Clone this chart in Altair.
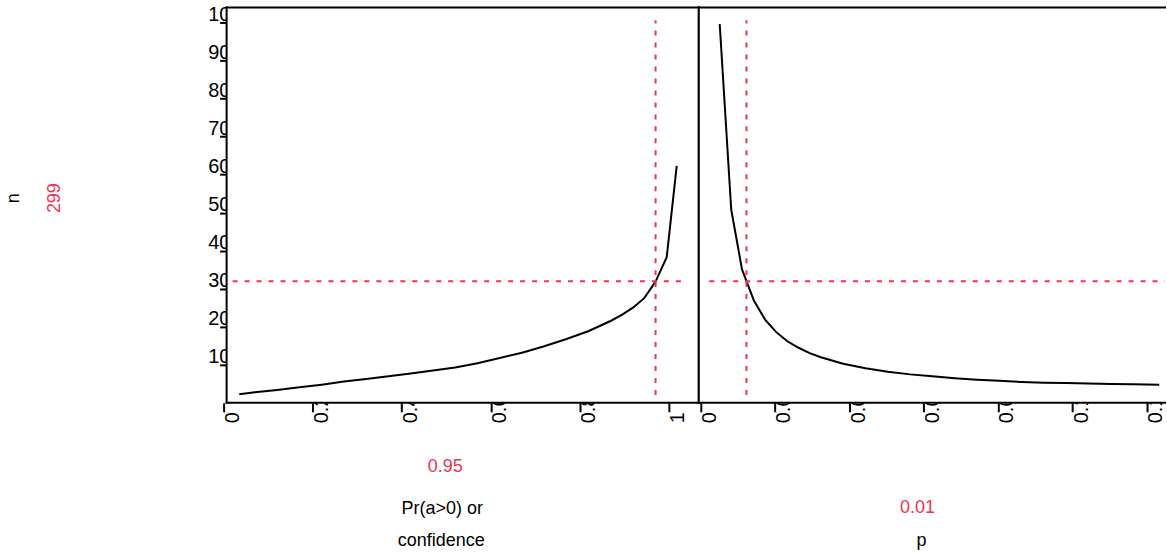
import altair as alt
import pandas as pd

# ---- data ----
conf_vals = [0.015, 0.05, 0.10, 0.15, 0.20, 0.25, 0.30, 0.35, 0.40, 0.45, 0.50, 0.55,
             0.60, 0.65, 0.70, 0.75, 0.80, 0.85, 0.875, 0.90, 0.925, 0.95, 0.975, 0.9975]
n_by_conf = [2, 7, 13, 20, 27, 35, 42, 49, 56, 64, 72, 83,
             97, 111, 128, 147, 168, 195, 211, 230, 255, 298, 362, 602]

p_vals = [0.0028, 0.0059, 0.0088, 0.012, 0.015, 0.018, 0.021, 0.024, 0.027, 0.030, 0.036,
          0.042, 0.048, 0.054, 0.060, 0.066, 0.072, 0.078, 0.084, 0.090, 0.096, 0.102,
          0.108, 0.114, 0.121]
n_by_p = [975, 487, 330, 248, 198, 165, 141, 124, 110, 99, 82,
          70, 61, 54, 49, 44, 40, 37, 34, 32, 31, 30,
          29, 28, 26.5]

chosen_conf = [0.95]
chosen_p = [0.01]
chosen_n = [299]
ref_conf_span = [0.0, 1.0135]
ref_p_span = [0.0, 0.1225]
ref_n_span = [0, 985]

y_ticks = [100, 200, 300, 400, 500, 600, 700, 800, 900, 1000]
xl_ticks = [0, 0.2, 0.4, 0.6, 0.8, 1]
xr_ticks = [0, 0.02, 0.04, 0.06, 0.08, 0.1, 0.12]

# ---- layout / style ----
W_L, W_R, H = 473, 467, 396
RED = "#EE3350"
FONT = "Liberation Sans"

left_df = pd.DataFrame({"conf": conf_vals, "n": n_by_conf})
right_df = pd.DataFrame({"p": p_vals, "n": n_by_p})
one = pd.DataFrame({"k": [0]})

ref_l_v = pd.DataFrame({"conf": chosen_conf, "n_lo": [ref_n_span[0]], "n_hi": [ref_n_span[1]]})
ref_l_h = pd.DataFrame({"n": chosen_n, "c_lo": [ref_conf_span[0]], "c_hi": [ref_conf_span[1]],
                        "lab": [str(v) for v in chosen_n]})
ref_r_v = pd.DataFrame({"p": chosen_p, "n_lo": [ref_n_span[0]], "n_hi": [ref_n_span[1]]})
ref_r_h = pd.DataFrame({"n": chosen_n, "p_lo": [ref_p_span[0]], "p_hi": [ref_p_span[1]]})
lab_conf = pd.DataFrame({"lab": [str(v) for v in chosen_conf]})
lab_p = pd.DataFrame({"lab": [str(v) for v in chosen_p]})

y_scale = alt.Scale(domain=[-20.7, 1018.6], nice=False, zero=False)
xl_scale = alt.Scale(domain=[-0.01345, 1.0471], nice=False, zero=False)
xr_scale = alt.Scale(domain=[-0.00282, 0.12255], nice=False, zero=False)

y_axis = alt.Axis(values=y_ticks, format="d", labelAlign="left", labelBaseline="middle",
                  labelPadding=12, tickSize=7, tickWidth=2, tickColor="black",
                  tickOffset=8, labelOffset=-8, domain=False, grid=False, title=None,
                  labelFont=FONT, labelFontSize=20, labelColor="black",
                  labelOverlap=False, labelFlush=False)


def x_axis(vals):
    return alt.Axis(values=vals, format="~g", labelAngle=270, labelAlign="left",
                    labelBaseline="middle", labelPadding=11, tickSize=9, tickWidth=2,
                    tickColor="black", tickOffset=-9, labelOffset=9, domain=False,
                    grid=False, title=None, labelFlush=False, labelOverlap=False,
                    labelFont=FONT, labelFontSize=20, labelColor="black")


def border(w):
    b = alt.Chart(one).mark_rule(color="black", strokeWidth=2, strokeCap="square")
    return [
        b.encode(x=alt.value(0), x2=alt.value(w), y=alt.value(0)),
        b.encode(x=alt.value(0), x2=alt.value(w), y=alt.value(H)),
        b.encode(x=alt.value(0), y=alt.value(0), y2=alt.value(H)),
    ]


def cover(w):
    return alt.Chart(one).mark_rect(color="white").encode(
        x=alt.value(0), x2=alt.value(w), y=alt.value(0), y2=alt.value(H))


def txt(df, text, x, y, color="black", angle=0):
    enc = dict(x=alt.value(x), y=alt.value(y))
    if text is None:
        m = alt.Chart(df).mark_text(font=FONT, fontSize=18, color=color, angle=angle,
                                    align="center", baseline="middle")
        enc["text"] = alt.Text("lab:N")
    else:
        m = alt.Chart(one).mark_text(font=FONT, fontSize=18, color=color, angle=angle,
                                     align="center", baseline="middle", text=text)
    return m.encode(**enc)


# ---- left panel ----
left_curve = alt.Chart(left_df).mark_line(color="black", strokeWidth=2).encode(
    x=alt.X("conf:Q", scale=xl_scale, axis=x_axis(xl_ticks)),
    y=alt.Y("n:Q", scale=y_scale, axis=y_axis),
)
l_vline = alt.Chart(ref_l_v).mark_rule(color=RED, strokeWidth=2, strokeDash=[5, 7]).encode(
    x=alt.X("conf:Q", scale=xl_scale), y=alt.Y("n_lo:Q", scale=y_scale), y2="n_hi:Q")
l_hline = alt.Chart(ref_l_h).mark_rule(color=RED, strokeWidth=2, strokeDash=[5, 7]).encode(
    y=alt.Y("n:Q", scale=y_scale), x=alt.X("c_lo:Q", scale=xl_scale), x2="c_hi:Q")
anchor = alt.Chart(one).mark_rect(opacity=0).encode(
    x=alt.value(-227), x2=alt.value(-226), y=alt.value(-7), y2=alt.value(549))

left = alt.layer(
    left_curve.mark_line(opacity=0),
    cover(W_L),
    left_curve,
    l_vline, l_hline,
    *border(W_L),
    alt.Chart(one).mark_rule(color="black", strokeWidth=2).encode(
        x=alt.value(W_L), y=alt.value(0), y2=alt.value(H)),
    txt(one, "n", -213, 191, angle=270),
    txt(ref_l_h, None, -171.5, 191, color=RED, angle=270),
    txt(lab_conf, None, 219, 460, color=RED),
    txt(one, "Pr(a>0) or", 216, 502),
    txt(one, "confidence", 215, 534),
    anchor,
).properties(width=W_L, height=H)

# ---- right panel ----
right_curve = alt.Chart(right_df).mark_line(color="black", strokeWidth=2).encode(
    x=alt.X("p:Q", scale=xr_scale, axis=x_axis(xr_ticks)),
    y=alt.Y("n:Q", scale=y_scale, axis=None),
)
r_vline = alt.Chart(ref_r_v).mark_rule(color=RED, strokeWidth=2, strokeDash=[5, 7]).encode(
    x=alt.X("p:Q", scale=xr_scale), y=alt.Y("n_lo:Q", scale=y_scale), y2="n_hi:Q")
r_hline = alt.Chart(ref_r_h).mark_rule(color=RED, strokeWidth=2, strokeDash=[5, 7]).encode(
    y=alt.Y("n:Q", scale=y_scale), x=alt.X("p_lo:Q", scale=xr_scale), x2="p_hi:Q")

right = alt.layer(
    right_curve.mark_line(opacity=0),
    cover(W_R),
    right_curve,
    r_vline, r_hline,
    *border(W_R),
    txt(lab_p, None, 219, 501, color=RED),
    txt(one, "p", 223, 534),
).properties(width=W_R, height=H)

chart = alt.hconcat(left, right, spacing=0, bounds="flush").properties(
    padding=0, background="white"
).configure_view(stroke=None)

chart.save("out.html", embed_options={"renderer": "svg", "actions": False})
